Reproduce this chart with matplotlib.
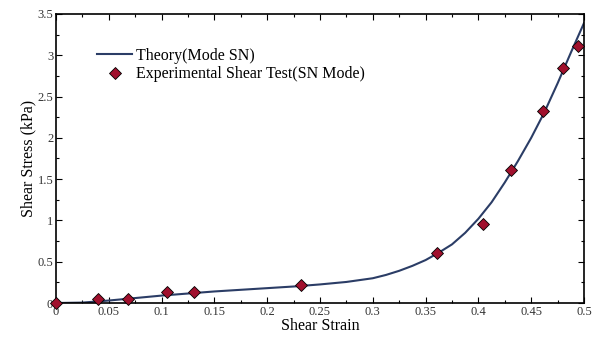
import numpy as np
import matplotlib
matplotlib.use('Agg')
import matplotlib.pyplot as plt
from matplotlib.ticker import MultipleLocator, FormatStrFormatter

# theory curve
theory_x = [0, 0.025, 0.05, 0.075, 0.1, 0.125, 0.15, 0.175, 0.2, 0.225, 0.25, 0.275,
            0.3, 0.3125, 0.325, 0.3375, 0.35, 0.3625, 0.375, 0.3875, 0.4, 0.4125,
            0.425, 0.4375, 0.45, 0.4625, 0.475, 0.4875, 0.5]
theory_y = [0, 0.005, 0.03, 0.06, 0.09, 0.115, 0.14, 0.16, 0.18, 0.20, 0.225, 0.255,
            0.30, 0.34, 0.39, 0.45, 0.52, 0.61, 0.71, 0.85, 1.02, 1.22,
            1.46, 1.72, 2.0, 2.31, 2.66, 3.03, 3.39]

# experimental points
exp_x = [0, 0.04, 0.068, 0.105, 0.131, 0.232, 0.361, 0.404, 0.431, 0.461, 0.480, 0.494]
exp_y = [0, 0.05, 0.05, 0.13, 0.13, 0.22, 0.61, 0.96, 1.61, 2.32, 2.85, 3.11]

plt.rcParams['font.family'] = ['Liberation Serif', 'DejaVu Serif']

fig = plt.figure(figsize=(5.97, 3.41), dpi=100)
ax = fig.add_axes([0.0938, 0.1114, 0.8844, 0.8476])

ax.plot(theory_x, theory_y, color='#2b3d66', lw=1.5, label='Theory(Mode SN)', zorder=2)
ax.plot(exp_x, exp_y, 'D', color='#a0102d', mec='black', mew=0.6, ms=6.5,
        label='Experimental Shear Test(SN Mode)', zorder=3, clip_on=False)

ax.set_xlim(0, 0.5)
ax.set_ylim(0, 3.5)
ax.xaxis.set_major_locator(MultipleLocator(0.05))
ax.xaxis.set_minor_locator(MultipleLocator(0.025))
ax.yaxis.set_major_locator(MultipleLocator(0.5))
ax.yaxis.set_minor_locator(MultipleLocator(0.25))
ax.xaxis.set_major_formatter(FormatStrFormatter('%g'))
ax.yaxis.set_major_formatter(FormatStrFormatter('%g'))
ax.tick_params(which='both', direction='in', top=True, right=True, labelsize=9,
               labelcolor='#333333', pad=2)
ax.tick_params(which='major', length=4, width=0.8)
ax.tick_params(which='minor', length=2, width=0.8)
for s in ax.spines.values():
    s.set_linewidth(1.2)

ax.set_xlabel('Shear Strain', fontsize=11.5, labelpad=0)
ax.set_ylabel('Shear Stress (kPa)', fontsize=11.5, labelpad=1)

ax.legend(loc='upper left', bbox_to_anchor=(0.078, 0.882), frameon=False, fontsize=11.5,
          handlelength=2.2, handletextpad=0.25, labelspacing=0.15, borderpad=0,
          borderaxespad=0)

fig.savefig('out.png', dpi=100)
